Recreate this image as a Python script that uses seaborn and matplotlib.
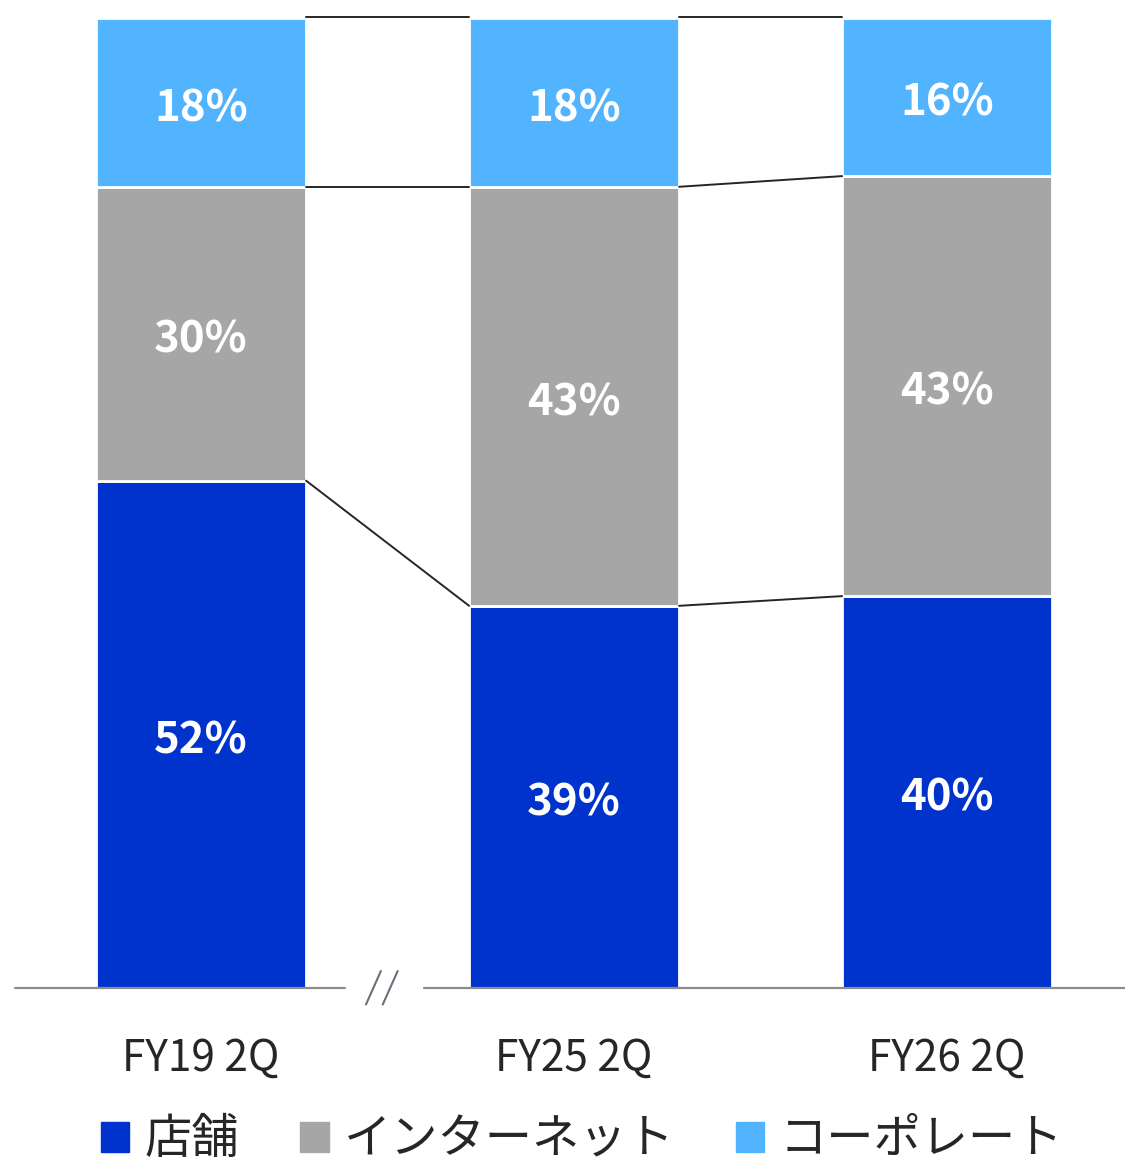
import matplotlib
matplotlib.use('Agg')
import matplotlib.pyplot as plt
import matplotlib.patches as mpatches
import numpy as np
import pandas as pd
import seaborn as sns

# Data - share of each channel (%), bottom to top: store, internet, corporate
periods = ['FY19 2Q', 'FY25 2Q', 'FY26 2Q']
segments = ['店舗', 'インターネット', 'コーポレート']
store = [52.3, 39.4, 40.4]
internet = [30.3, 43.2, 43.3]
corporate = [17.4, 17.4, 16.3]
store_labels = ['52%', '39%', '40%']
internet_labels = ['30%', '43%', '43%']
corporate_labels = ['18%', '18%', '16%']

colors = ['#0033CC', '#A6A6A6', '#52B3FF']

sns.set_theme(style='white')
plt.rcParams['font.family'] = ['Noto Sans CJK JP', 'DejaVu Sans']

fig = plt.figure(figsize=(11.25, 11.65), dpi=100)
ax = fig.add_axes([15 / 1125, 177 / 1165, 1110 / 1125, 970 / 1165])

values = [store, internet, corporate]
labels = [store_labels, internet_labels, corporate_labels]
bar_width = 0.563
bottom = np.zeros(len(periods))
for vals, labs, color in zip(values, labels, colors):
    df = pd.DataFrame({'period': periods, 'value': vals})
    sns.barplot(data=df, x='period', y='value', ax=ax, color=color,
                width=bar_width, bottom=bottom, edgecolor='white',
                linewidth=2, saturation=1)
    for i, (v, t) in enumerate(zip(vals, labs)):
        ax.text(i, bottom[i] + v / 2 - 0.6, t, ha='center', va='center',
                color='white', fontsize=31.5, fontweight='bold')
    bottom = bottom + np.array(vals)

# Connector lines between neighbouring bars
levels = np.cumsum(np.array(values), axis=0)
for i in range(len(periods) - 1):
    x0 = i + bar_width / 2
    x1 = i + 1 - bar_width / 2
    for k in range(levels.shape[0]):
        y0, y1 = levels[k, i], levels[k, i + 1]
        if k == levels.shape[0] - 1:
            y0 = y1 = 100.1
        ax.plot([x0, x1], [y0, y1], color='#262626', lw=1.4,
                clip_on=False, zorder=5)

ax.set_xlim(-0.499, 2.477)
ax.set_ylim(0, 100)
ax.set_xlabel('')
ax.set_ylabel('')
ax.set_yticks([])
ax.tick_params(axis='x', length=0, pad=35, labelsize=30.5, labelcolor='#262626')
for s in ax.spines.values():
    s.set_visible(False)

# Broken baseline with // mark
ax.plot([-0.499, 0.386], [0, 0], color='#8c8c8c', lw=1.6, clip_on=False)
ax.plot([0.598, 2.477], [0, 0], color='#8c8c8c', lw=1.6, clip_on=False)
for dx in [0.0, 0.045]:
    ax.plot([0.442 + dx, 0.482 + dx], [-1.7, 1.75], color='#6b6f7a',
            lw=1.5, clip_on=False)

handles = [mpatches.Patch(color=c, label=s) for c, s in zip(colors, segments)]
fig.legend(handles=handles, loc='center', bbox_to_anchor=(582 / 1125, 1 - 1140 / 1165),
           ncol=3, frameon=False, fontsize=34, handlelength=0.6,
           handleheight=0.6, handletextpad=0.32, columnspacing=1.3,
           labelcolor='#262626')

fig.savefig('out.png', dpi=100)
